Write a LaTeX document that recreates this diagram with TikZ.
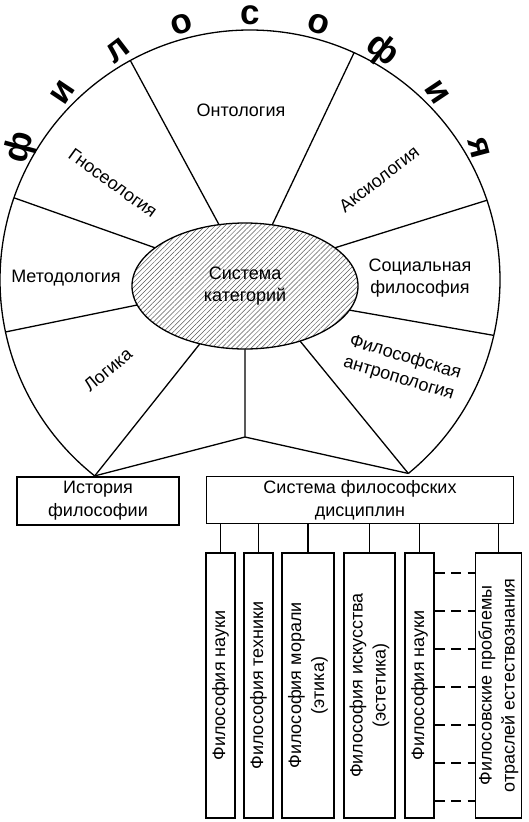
\documentclass[tikz,border=0pt]{standalone}
\usepackage{fontspec}
\setmainfont{Liberation Sans}
\usetikzlibrary{shapes.geometric,patterns.meta}

\tikzset{
  fan/.style={line width=1.3pt},
  sector/.style={font=\fontsize{18}{22}\selectfont, align=center, inner sep=0pt},
  bigletter/.style={font=\fontsize{35}{35}\selectfont\bfseries, inner sep=0pt},
  core/.style={ellipse, draw, line width=1.3pt, inner sep=0pt,
    minimum width=226pt, minimum height=126pt, align=center,
    font=\fontsize{18}{22}\selectfont,
    pattern={Lines[angle=45, distance=3.5pt, line width=0.5pt]}, pattern color=black!65},
  hbox/.style={draw, line width=1.3pt, inner sep=0pt, align=center,
    font=\fontsize{18}{23}\selectfont},
  vbox/.style={draw, line width=1.3pt, inner sep=0pt, minimum height=265pt,
    font=\fontsize{18}{23}\selectfont},
  dashlink/.style={line width=1.3pt, dash pattern=on 10pt off 6.5pt},
}
\newcommand{\vtext}[1]{\rotatebox{90}{\begin{tabular}{@{}c@{}}#1\end{tabular}}}

\begin{document}
\begin{tikzpicture}[x=1pt, y=-1pt]
  \useasboundingbox (0,0) rectangle (529,822);

  % Outer fan
  \coordinate (C) at (250,280);
  \foreach \n/\a in {a1/118.6, a2/65.4, a3/18.6, a4/-12.8, a5/192, a6/160.8, pL/231.6, pR/-50.7}
    \coordinate (\n) at ([shift={(C)}]\a:250pt);
  \draw[fan] (pR) arc[start angle=-50.7, end angle=231.6, radius=250pt];

  % Core
  \node[core] (core) at (245,286) {Система\\категорий};

  % Radial lines
  \foreach \e/\n in {113/a1, 66/a2, 23/a3, 347.5/a4, 190/a5, 157/a6, 232/pL, 315.5/pR}
    \draw[fan] (core.\e) -- (\n);
  \coordinate (J) at (245,437);
  \draw[fan] (core.south) -- (J) (pL) -- (J) -- (pR);

  % Sector labels
  \node[sector] (onto) at (241,110) {Онтология};
  \node[sector, rotate=-36] (gnos) at (113,183) {Гносеология};
  \node[sector, rotate=38] (axio) at (379,179) {Аксиология};
  \node[sector] (meth) at (66,278) {Методология};
  \node[sector] (soc) at (420,278) {Социальная\\философия};
  \node[sector, rotate=40] (logic) at (108,370) {Логика};
  \node[sector, rotate=-17] (anthro) at (402,368) {Философская\\антропология};

  % Word along the arc
  \foreach \ch [count=\i, evaluate=\i as \ang using 165-15*\i] in {ф,и,л,о,с,о,ф,и,я}
    \node[bigletter, rotate={1.25*(\ang-90)}] (w\i) at ([shift={(C)}]\ang:265pt) {\ch};

  % Lower boxes
  \node[hbox, minimum width=162pt, minimum height=48pt] (hist) at (98,501) {История\\философии};
  \node[hbox, minimum width=307pt, minimum height=47pt] (sys) at (360,500) {Система философских\\дисциплин};

  \foreach \n/\x/\w/\t in {
      b1/220.5/29/{Философия науки},
      b2/258.5/29/{Философия техники},
      b3/308/52/{Философия морали\\(этика)},
      b4/369.5/51/{Философия искусства\\(эстетика)},
      b5/419.5/29/{Философия науки},
      b6/498.5/43/{Филосовские проблемы\\отраслей естествознания}}
  {
    \node[vbox, minimum width=\w pt] (\n) at (\x,685.5) {\vtext{\t}};
    \draw[fan] (\n.north |- sys.south) -- (\n.north);
  }

  % Dashed links
  \foreach \y in {573,611,649,687,725,763,801}
    \draw[dashlink] (b5.east |- 0,\y) -- (b6.west |- 0,\y);
\end{tikzpicture}
\end{document}
